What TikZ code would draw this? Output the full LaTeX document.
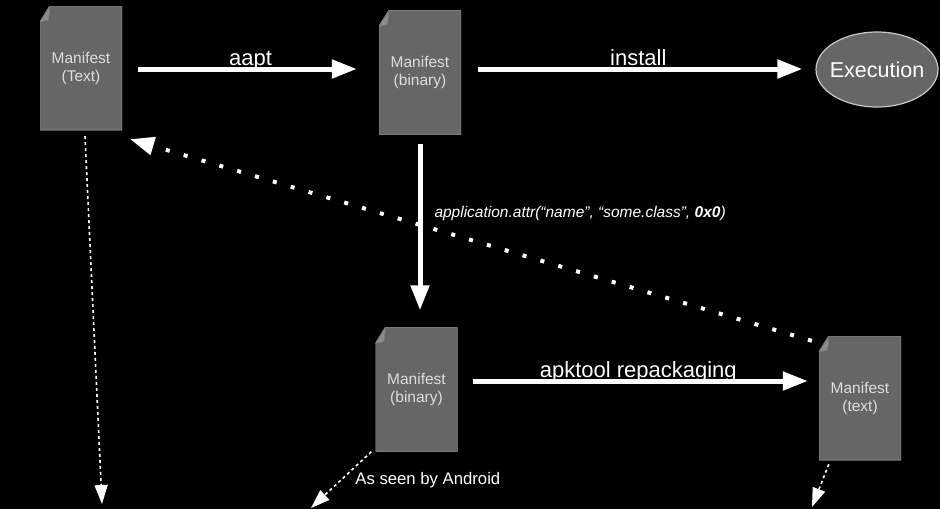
\documentclass[tikz,border=0pt]{standalone}
\usepackage{fontspec}
\setmainfont{Liberation Sans}
\usetikzlibrary{arrows.meta,shapes.geometric,calc}
\definecolor{docfill}{HTML}{666666}
\definecolor{docline}{HTML}{7A7A7A}
\definecolor{docfold}{HTML}{8C8C8C}
\definecolor{doctext}{HTML}{DDDDDD}
\definecolor{ellline}{HTML}{C8C8C8}
\begin{document}
\begin{tikzpicture}[x=1pt,y=-1pt,
  docbox/.style={minimum width=82pt, minimum height=124pt, inner sep=0pt,
    align=center, text=doctext, font=\fontsize{15.5pt}{18pt}\selectfont,
    path picture={
      \filldraw[fill=docfill, draw=docline, line width=1.4pt]
        ([xshift=10pt]path picture bounding box.north west)
        -- (path picture bounding box.north east)
        -- (path picture bounding box.south east)
        -- (path picture bounding box.south west)
        -- ([yshift=-16pt]path picture bounding box.north west) -- cycle;
      \filldraw[fill=docfold, draw=docline, line width=0.6pt]
        ([xshift=10pt]path picture bounding box.north west)
        -- ([xshift=8.5pt,yshift=-14pt]path picture bounding box.north west)
        -- ([yshift=-16pt]path picture bounding box.north west) -- cycle;
    }},
  bigarrow/.style={draw=white, line width=5pt, -{Triangle[length=25pt,width=18pt]}},
  dotarrow/.style={draw=white, line width=4pt, dash pattern=on 4pt off 14.6pt,
    -{Triangle[length=24pt,width=18pt]}},
  thinarrow/.style={draw=white, line width=1.6pt, dash pattern=on 3pt off 3pt,
    -{Triangle[length=19pt,width=13pt]}},
  biglabel/.style={text=white, font=\fontsize{22pt}{26pt}\selectfont, inner sep=0pt},
  smalllabel/.style={text=white, inner sep=0pt}
]
\fill[black] (0,0) rectangle (940,509);
\useasboundingbox (0,0) rectangle (940,509);

\node[docbox] (m1) at (81,68) {Manifest\\(Text)};
\node[docbox] (m2) at (420,72.5) {Manifest\\(binary)};
\node[docbox] (m3) at (416.5,389.5) {Manifest\\(binary)};
\node[docbox] (m4) at (860,398) {Manifest\\(text)};
\node[ellipse, minimum width=122pt, minimum height=75pt, inner xsep=-20pt, inner ysep=0pt,
  fill=docfill, draw=ellline, line width=1.2pt, text=white,
  font=\fontsize{21.5pt}{24pt}\selectfont] (ex) at (877,69.5) {Execution};

\coordinate (e1) at (102,504);
\coordinate (e2) at (311,508);
\coordinate (e3) at (812,507);

% main arrows
\draw[bigarrow, shorten <=16pt, shorten >=22pt] ([yshift=-1pt]m1.east) -- ([yshift=-1pt]m1.east -| m2.west)
  node[biglabel, midway, anchor=base, yshift=3.5pt] (laapt) {aapt};
\draw[bigarrow, shorten <=17pt, shorten >=13pt] ([yshift=3.5pt]m2.east) -- ([yshift=3.5pt]m2.east -| ex.west)
  node[biglabel, midway, anchor=base, yshift=3.5pt] (linstall) {install};
\draw[bigarrow, shorten <=9pt, shorten >=17pt] (m2.south) -- (m2.south |- m3.north)
  node[smalllabel, pos=0.43, anchor=base west, xshift=12pt,
    font=\fontsize{15.5pt}{18pt}\selectfont\itshape] (lattr)
  {application.attr(“name”, “some.class”, \textbf{0x0})};
\draw[bigarrow, shorten <=15pt, shorten >=11pt] ([yshift=8.5pt]m3.east) -- ([yshift=8.5pt]m3.east -| m4.west)
  node[biglabel, midway, anchor=base, yshift=3.5pt] (lapk) {apktool repackaging};

% dotted back arrow
\draw[dotarrow] ([xshift=-7pt,yshift=-5pt]m4.north west) -- ([xshift=8pt,yshift=-9pt]m1.south east);

% thin dashed arrows
\draw[thinarrow] ([xshift=4pt,yshift=-6pt]m1.south) -- (e1);
\draw[thinarrow] ([xshift=-4pt]m3.south west) -- (e2)
  node[smalllabel, pos=0.5, anchor=base west, xshift=13.5pt, yshift=-5pt,
    font=\fontsize{16.7pt}{20pt}\selectfont] (landroid) {As seen by Android};
\draw[thinarrow] ([xshift=10pt,yshift=-4pt]m4.south west) -- (e3);
\end{tikzpicture}
\end{document}
